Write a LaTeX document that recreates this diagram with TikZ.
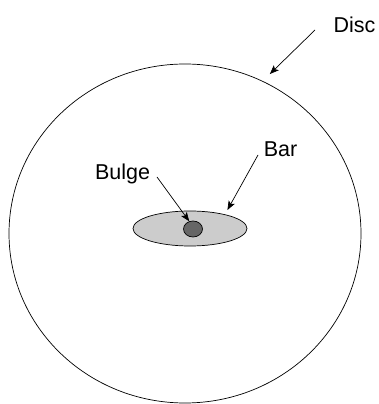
\documentclass[tikz,border=0pt]{standalone}
\usepackage{fontspec}
\setmainfont{Liberation Sans}
\usetikzlibrary{arrows.meta,shapes.geometric}
\definecolor{BarGrey}{HTML}{CCCCCC}
\definecolor{BulgeGrey}{HTML}{666666}
\tikzset{
  lbl/.style={font=\fontsize{21.5}{25}\selectfont,anchor=base,inner sep=0pt},
  pointer/.style={-{Stealth[length=9pt,width=7pt,inset=2pt]},line width=0.7pt},
  blob/.style={ellipse,draw,inner sep=0pt,line width=0.7pt}
}

\begin{document}
\begin{tikzpicture}[x=1pt,y=1pt]
\useasboundingbox (0,0) rectangle (379,404);
\node[blob,minimum width=352pt,minimum height=339pt] (disc) at (185,170.5) {};
\node[blob,fill=BarGrey,minimum width=114pt,minimum height=35pt] (bar) at (190,175.5) {};
\node[blob,fill=BulgeGrey,minimum width=19pt,minimum height=16pt] (bulge) at (193,175) {};
\node[lbl] (disclbl) at (354.5,371) {Disc};
\node[lbl] (barlbl) at (280.5,247) {Bar};
\node[lbl] (bulgelbl) at (122.5,224) {Bulge};
\coordinate (discfrom) at (315,374);
\coordinate (barfrom) at (258,249);
\coordinate (bulgefrom) at (157,227);
\draw[pointer,shorten >=10pt] (discfrom) -- (disc.63);
\draw[pointer,shorten >=5pt] (barfrom) -- (bar.22);
\draw[pointer] (bulgefrom) -- (bulge.116);
\end{tikzpicture}
\end{document}
